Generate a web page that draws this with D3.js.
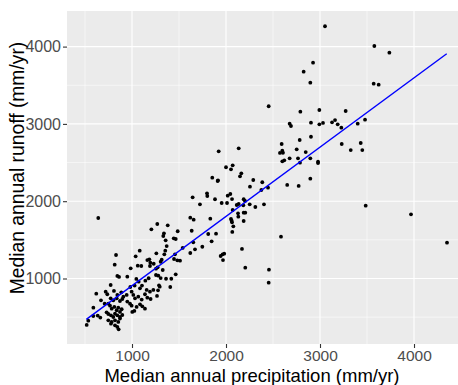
<!DOCTYPE html>
<html>
<head>
<meta charset="utf-8">
<script src="https://cdn.jsdelivr.net/npm/d3@7"></script>
<style>
  html, body { margin: 0; padding: 0; background: #fff; }
  svg { display: block; }
</style>
</head>
<body>
<svg id="chart" width="458" height="385"></svg>
<script>
// ---- data ----
const precip = [
  3053,2926,2826,2897,3578,3738,3571,3624,3401,3479,3433,3450,3486,3968,4351,
  2993,3273,2904,2993,3032,3128,3160,3188,3227,2904,3231,3327,2897,2979,2979,2897,
  2454,2791,2677,2691,2784,2592,2752,2848,2599,2574,2606,2599,2620,2677,2766,2787,2651,2773,
  2135,2163,2149,2290,2386,2255,2376,2447,2135,2188,2202,2184,2252,2312,2404,2128,2131,2188,2205,2188,
  2585,2170,2205,2457,2454,
  1911,1645,1798,1801,1883,1723,1954,2018,2046,2064,2011,2114,2071,1269,1380,1340,1333,1620,1656,1833,
  1635,1486,1811,1894,2064,2078,2067,2053,2060,1358,1444,1465,1652,1847,1369,1748,1670,1354,1539,1620,
  1259,1344,1457,1447,1482,1511,1316,1305,1964,1981,1943,1968,1255,1273,1327,1255,1280,1305,1362,1418,
  1465,1287,1295,1277,1266,1407,
  1922,2000,2071,2053,1854,1915,
  641,1206,830,1082,1039,1163,1184,1195,816,1061,1099,1191,1231,
  986,844,862,950,773,1046,1071,1142,1177,1028,1085,1106,1156,1191,1227,982,996,808,844,720,737,620,
  886,908,943,1014,1032,1067,1103,1138,1163,1198,773,801,837,872,897,950,979,996,1049,1085,1110,
  670,709,748,766,784,812,837,854,872,890,589,1138,1003,1025,730,748,776,801,819,844,872,897,635,663,
  518,748,784,819,854,872,776,819,844,858,535,588
];
const runoff = [
  4263,3792,3675,3533,4008,3921,3520,3507,3003,3054,2753,2662,1942,1830,1463,
  3180,3167,3016,2995,3012,3021,3050,2995,2951,2834,2740,2662,2555,2511,2494,2291,
  3228,3158,3003,2973,2792,2740,2671,2636,2653,2624,2627,2516,2529,2555,2555,2498,2210,2197,
  2684,2360,2322,2274,2245,2188,2145,2175,1964,2025,2003,1947,1960,1925,1960,1843,1800,1851,1851,1744,
  1541,1382,1140,1114,946,
  2261,2050,2102,2067,2025,1960,1977,2071,2093,2028,1977,1951,1886,1705,1688,1585,1550,1787,1761,1774,
  1618,1611,1576,1580,1727,1675,1602,1770,1748,1494,1520,1511,1468,1481,1420,1411,1378,1360,1395,1330,
  1326,1313,1313,1252,1235,1230,1243,1217,1313,1321,1291,1239,1127,1145,1110,1045,1036,1006,997,997,
  1054,912,894,847,774,890,
  2645,2439,2464,2413,2304,2270,
  1783,1636,1304,1360,1287,1239,1248,1204,1179,1166,1162,1162,1191,
  1132,1033,1020,1024,916,994,959,972,1003,908,873,908,852,830,852,890,830,839,787,830,796,804,
  821,765,787,787,744,765,727,796,752,735,744,718,744,709,735,701,675,649,632,666,640,
  718,675,675,649,610,632,589,623,567,602,623,610,567,580,563,541,524,502,545,524,502,528,520,494,
  399,459,438,459,438,481,416,394,373,343,454,515
];
// fitted regression line end points (precip, runoff)
const fitPrecip = [514, 4348];
const fitRunoff = [472, 3908];
// axis settings
const xDomain = [308.5, 4468];
const yDomain = [152.7, 4460.5];
const xTicks = [1000, 2000, 3000, 4000];
const yTicks = [1000, 2000, 3000, 4000];
const xMinor = [500, 1500, 2500, 3500];
const yMinor = [500, 1500, 2500, 3500];
const xTitle = "Median annual precipitation (mm/yr)";
const yTitle = "Median annual runoff (mm/yr)";

// ---- layout ----
const panel = { left: 67, top: 11, right: 458, bottom: 344 };
const svg = d3.select("#chart");
const x = d3.scaleLinear().domain(xDomain).range([panel.left, panel.right]);
const y = d3.scaleLinear().domain(yDomain).range([panel.bottom, panel.top]);
const font = "'Liberation Sans', Arial, Helvetica, sans-serif";

svg.append("rect").attr("x", panel.left).attr("y", panel.top)
  .attr("width", panel.right - panel.left).attr("height", panel.bottom - panel.top)
  .attr("fill", "#EBEBEB");

const grid = svg.append("g");
grid.selectAll(".xminor").data(xMinor).join("line")
  .attr("x1", d => x(d)).attr("x2", d => x(d))
  .attr("y1", panel.top).attr("y2", panel.bottom)
  .attr("stroke", "#fff").attr("stroke-width", 0.55);
grid.selectAll(".yminor").data(yMinor).join("line")
  .attr("y1", d => y(d)).attr("y2", d => y(d))
  .attr("x1", panel.left).attr("x2", panel.right)
  .attr("stroke", "#fff").attr("stroke-width", 0.55);
grid.selectAll(".xmajor").data(xTicks).join("line")
  .attr("x1", d => x(d)).attr("x2", d => x(d))
  .attr("y1", panel.top).attr("y2", panel.bottom)
  .attr("stroke", "#fff").attr("stroke-width", 1.1);
grid.selectAll(".ymajor").data(yTicks).join("line")
  .attr("y1", d => y(d)).attr("y2", d => y(d))
  .attr("x1", panel.left).attr("x2", panel.right)
  .attr("stroke", "#fff").attr("stroke-width", 1.1);

// points
const pts = precip.map((p, i) => [p, runoff[i]]);
svg.append("g").selectAll("circle").data(pts).join("circle")
  .attr("cx", d => x(d[0])).attr("cy", d => y(d[1]))
  .attr("r", 1.9).attr("fill", "#000");

// regression line
const fit = fitPrecip.map((p, i) => [p, fitRunoff[i]]);
svg.append("path").datum(fit)
  .attr("d", d3.line().x(d => x(d[0])).y(d => y(d[1])))
  .attr("fill", "none").attr("stroke", "#0000FF").attr("stroke-width", 1.4);

// axes
const xAxis = d3.axisBottom(x).tickValues(xTicks).tickSize(4).tickPadding(2).tickFormat(d3.format("d"));
const gx = svg.append("g").attr("transform", `translate(0,${panel.bottom})`).call(xAxis);
gx.select(".domain").remove();
gx.selectAll(".tick line").attr("stroke", "#333").attr("stroke-width", 1.1);
gx.selectAll(".tick text").attr("fill", "#4D4D4D").style("font-family", font).style("font-size", "15.5px");

const yAxis = d3.axisLeft(y).tickValues(yTicks).tickSize(4).tickPadding(2).tickFormat(d3.format("d"));
const gy = svg.append("g").attr("transform", `translate(${panel.left},0)`).call(yAxis);
gy.select(".domain").remove();
gy.selectAll(".tick line").attr("stroke", "#333").attr("stroke-width", 1.1);
gy.selectAll(".tick text").attr("fill", "#4D4D4D").style("font-family", font).style("font-size", "16px");

// titles
svg.append("text").attr("x", 252).attr("y", 381.5)
  .attr("text-anchor", "middle").attr("fill", "#000")
  .style("font-family", font).style("font-size", "18.5px").text(xTitle);
svg.append("text").attr("transform", `translate(24,168) rotate(-90)`)
  .attr("text-anchor", "middle").attr("fill", "#000")
  .style("font-family", font).style("font-size", "19.3px").text(yTitle);
</script>
</body>
</html>
